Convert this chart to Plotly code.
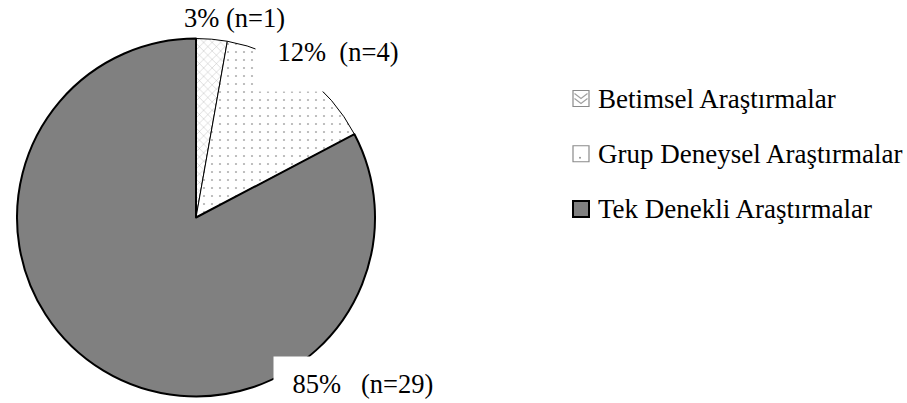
import plotly.graph_objects as go

# ---- data ----
categories = ["Betimsel Araştırmalar", "Grup Deneysel Araştırmalar", "Tek Denekli Araştırmalar"]
counts = [1, 4, 29]
percent_labels = ["3%", "12%", "85%"]
# slice sizes as drawn in the reference (percent of the circle)
slice_shares = [2.8, 14.5, 82.7]

W, H = 907, 403
FONT = "Liberation Serif, Times New Roman, serif"
FS_LABEL = 26.5
FS_LEGEND = 27

# pie geometry (pixels)
cx, cy, r = 196, 217.5, 179


def px(x):
    return x / W


def py(y):
    return 1 - y / H


fig = go.Figure()
fig.add_trace(go.Pie(
    labels=categories,
    values=slice_shares,
    customdata=counts,
    hovertemplate="%{label}: n=%{customdata}<extra></extra>",
    sort=False,
    direction="clockwise",
    rotation=0,
    textinfo="none",
    showlegend=False,
    marker=dict(
        colors=["white", "white", "#808080"],
        line=dict(color="black", width=[1, 1, 2]),
        pattern=dict(
            shape=["x", ".", ""],
            fgcolor=["#a8a8a8", "#b0b0b0", "#808080"],
            bgcolor=["white", "white", "#808080"],
            size=[6, 8, 8],
            solidity=[0.12, 0.06, 0.3],
        ),
    ),
    domain=dict(x=[px(cx - r), px(cx + r)], y=[py(cy + r), py(cy - r)]),
))

gaps = ["\u00a0", "\u00a0\u00a0", "\u00a0\u00a0\u00a0"]
texts = [p + g + "(n=" + str(n) + ")" for p, g, n in zip(percent_labels, gaps, counts)]
lfont = dict(family=FONT, size=FS_LABEL, color="black")
gfont = dict(family=FONT, size=FS_LEGEND, color="black")

# slice labels (white boxes like the reference)
fig.add_annotation(text=texts[0], x=px(234), y=py(17.5), xref="paper", yref="paper",
                   xanchor="center", yanchor="middle", showarrow=False, font=lfont)
fig.add_annotation(text=texts[1], x=px(255), y=py(36), xref="paper", yref="paper",
                   xanchor="left", yanchor="top", showarrow=False, width=164, height=54,
                   valign="top", align="center", bgcolor="white", borderpad=0, font=lfont)
fig.add_annotation(text=texts[2], x=px(273), y=py(356), xref="paper", yref="paper",
                   xanchor="left", yanchor="top", showarrow=False, width=178, height=54,
                   valign="middle", align="center", bgcolor="white", borderpad=0, font=lfont)

# legend (drawn to match the reference's large spacing and icons)
leg_y = [98.5, 153.75, 209]
icon_x0, icon_s = 573, 16
for i, (cat, yc) in enumerate(zip(categories, leg_y)):
    fig.add_annotation(text=cat, x=px(596), y=py(yc), xref="paper", yref="paper",
                       xanchor="left", yanchor="middle", showarrow=False, font=gfont)
    x0, x1 = icon_x0, icon_x0 + icon_s
    y0, y1 = yc - icon_s / 2, yc + icon_s / 2
    if i == 0:
        fig.add_shape(type="rect", xref="paper", yref="paper", x0=px(x0), x1=px(x1),
                      y0=py(y1), y1=py(y0), fillcolor="white", line=dict(color="#8a8a8a", width=1.2))
        for dy in (3, 8):
            path = "M {a},{b} L {c},{d} L {e},{f}".format(
                a=px(x0 + 1.5), b=py(y0 + dy), c=px((x0 + x1) / 2), d=py(y0 + dy + 5),
                e=px(x1 - 1.5), f=py(y0 + dy))
            fig.add_shape(type="path", xref="paper", yref="paper", path=path,
                          line=dict(color="#a0a0a0", width=1.2))
    elif i == 1:
        fig.add_shape(type="rect", xref="paper", yref="paper", x0=px(x0), x1=px(x1),
                      y0=py(y1), y1=py(y0), fillcolor="white", line=dict(color="#8a8a8a", width=1.2))
        fig.add_shape(type="circle", xref="paper", yref="paper", x0=px(x0 + 6), x1=px(x0 + 8),
                      y0=py(y1 - 3), y1=py(y1 - 5), fillcolor="#909090", line=dict(width=0))
    else:
        fig.add_shape(type="rect", xref="paper", yref="paper", x0=px(x0), x1=px(x1),
                      y0=py(y1), y1=py(y0), fillcolor="#808080", line=dict(color="black", width=2))

fig.update_layout(
    width=W, height=H,
    margin=dict(l=0, r=0, t=0, b=0),
    paper_bgcolor="white",
    plot_bgcolor="white",
    showlegend=False,
)

fig.write_html("out.html")
